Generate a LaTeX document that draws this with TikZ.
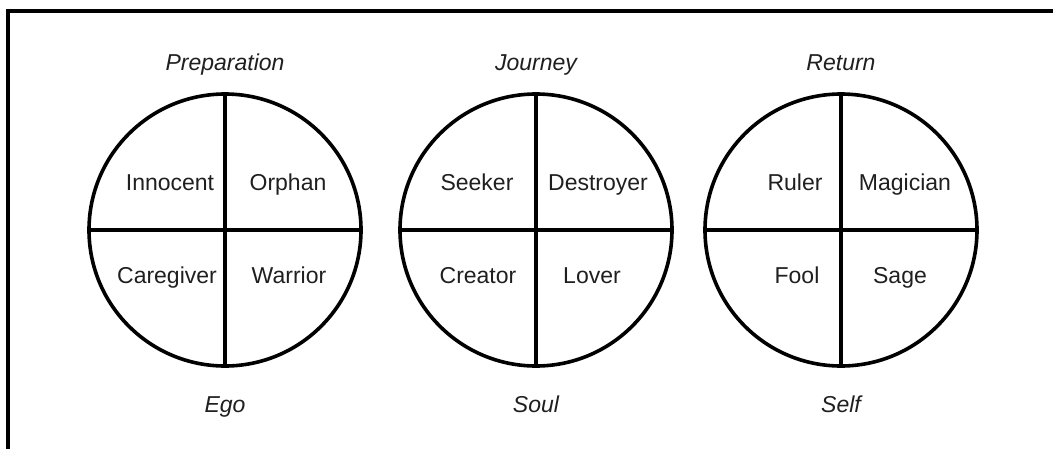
\documentclass[tikz,border=0pt]{standalone}
\usepackage{fontspec}
\setmainfont{Liberation Sans}
\begin{document}
\begin{tikzpicture}[x=1pt,y=-1pt,
  ring/.style={draw=black,line width=3.6pt},
  divider/.style={draw=black,line width=3.2pt},
  frameline/.style={draw=black,line width=4pt},
  role/.style={font=\fontsize{23}{25}\selectfont,text=black!88,inner sep=0pt,anchor=base},
  phase/.style={font=\fontsize{23}{25}\selectfont\itshape,text=black!88,inner sep=0pt,anchor=base}]
\useasboundingbox (0,0) rectangle (1053,448);
% frame (top and left edges visible)
\coordinate (fa) at (8,460);
\coordinate (fb) at (8,11);
\coordinate (fc) at (1070,11);
\draw[frameline] (fa) -- (fb) -- (fc);
% circles
\foreach \n/\cx in {A/225,B/536,C/841}{
  \node[ring,circle,minimum size=272pt,inner sep=0pt] (\n) at (\cx,230) {};
  \draw[divider] (\n.north) -- (\n.south);
  \draw[divider] (\n.west) -- (\n.east);
}
% labels circle A
\node[phase] (pA) at (225,70) {Preparation};
\node[phase] (eA) at (225,412) {Ego};
\node[role] (a1) at (170,190) {Innocent};
\node[role] (a2) at (288,190) {Orphan};
\node[role] (a3) at (167,283) {Caregiver};
\node[role] (a4) at (289,283) {Warrior};
% labels circle B
\node[phase] (pB) at (536,70) {Journey};
\node[phase] (eB) at (536,412) {Soul};
\node[role] (b1) at (477,190) {Seeker};
\node[role] (b2) at (598,190) {Destroyer};
\node[role] (b3) at (478,283) {Creator};
\node[role] (b4) at (592,283) {Lover};
% labels circle C
\node[phase] (pC) at (841,70) {Return};
\node[phase] (eC) at (841,412) {Self};
\node[role] (c1) at (795,190) {Ruler};
\node[role] (c2) at (905,190) {Magician};
\node[role] (c3) at (797,283) {Fool};
\node[role] (c4) at (900,283) {Sage};
\end{tikzpicture}
\end{document}
